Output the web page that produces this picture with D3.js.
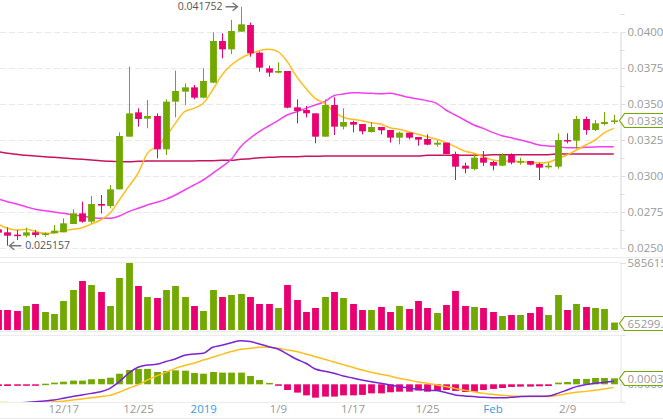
<!DOCTYPE html>
<html>
<head>
<meta charset="utf-8">
<script src="https://d3js.org/d3.v7.min.js"></script>
<style>
  body { margin: 0; background: #fff; }
  svg { display: block; font-family: "Open Sans", sans-serif; }
</style>
</head>
<body>
<div id="chart"></div>
<script>
// daily candles, first one is 2018-12-10
var startDay = new Date(2018, 11, 10);

var openP = [0.026296,0.026088,0.025926,0.025856,0.026088,0.025903,0.026018,0.026088,0.026667,0.027407,
  0.026829,0.028055,0.027917,0.029074,0.032731,0.034421,0.033981,0.034167,0.031852,0.035162,
  0.035856,0.036157,0.03544,0.036481,0.039375,0.038796,0.040023,0.040486,0.038565,0.037477,
  0.037176,0.037291,0.034768,0.034583,0.034352,0.032731,0.03493,0.033426,0.03375,0.033611,
  0.033055,0.033403,0.033194,0.032662,0.033009,0.032708,0.032569,0.032176,0.032315,0.031528,
  0.030717,0.030486,0.031273,0.030972,0.030717,0.031458,0.030926,0.031042,0.030833,0.030602,
  0.030648,0.0325,0.032454,0.033958,0.033194,0.033611,0.03375];
var highP = [0.026481,0.026435,0.02625,0.026412,0.02625,0.026088,0.026597,0.02706,0.027685,0.028217,
  0.028611,0.02868,0.029375,0.033032,0.037592,0.034699,0.035278,0.034352,0.035324,0.037315,
  0.036435,0.036319,0.037477,0.039977,0.039907,0.040833,0.041752,0.040648,0.038634,0.037662,
  0.037893,0.037291,0.035324,0.034861,0.034352,0.035324,0.035463,0.034699,0.033842,0.033611,
  0.033727,0.033403,0.033194,0.033079,0.033009,0.032708,0.032893,0.032477,0.032315,0.03169,
  0.030926,0.031504,0.031736,0.031042,0.031574,0.031574,0.031273,0.031042,0.030926,0.030926,
  0.032963,0.032963,0.034167,0.03412,0.033889,0.034444,0.034236];
var lowP = [0.025903,0.025157,0.025555,0.025741,0.025741,0.025787,0.026018,0.026088,0.026667,0.026759,
  0.026713,0.027407,0.027754,0.029074,0.032731,0.033426,0.03331,0.031227,0.031458,0.034074,
  0.03493,0.035324,0.035393,0.036435,0.038171,0.038472,0.040023,0.038287,0.037245,0.036898,
  0.037129,0.034699,0.033657,0.034074,0.032268,0.032731,0.032847,0.033241,0.033032,0.032893,
  0.033009,0.032893,0.032315,0.032199,0.032546,0.032106,0.032129,0.032037,0.031528,0.029722,
  0.030185,0.030393,0.030694,0.030393,0.030671,0.03081,0.030787,0.030741,0.029722,0.030509,
  0.030509,0.032268,0.031921,0.03287,0.033125,0.033518,0.033611];
var closeP = [0.026065,0.025856,0.025856,0.026088,0.025903,0.026018,0.026204,0.026713,0.027407,0.026829,
  0.028055,0.02794,0.029074,0.032778,0.034352,0.033958,0.034167,0.031852,0.035162,0.035903,
  0.036157,0.03544,0.036597,0.039375,0.038796,0.040069,0.040532,0.038518,0.037523,0.037176,
  0.037291,0.034745,0.034514,0.034352,0.032731,0.03493,0.033426,0.03375,0.033565,0.033102,
  0.033403,0.033171,0.032662,0.033009,0.032662,0.032523,0.032176,0.032315,0.031528,0.030648,
  0.030509,0.031273,0.030926,0.030717,0.031458,0.030926,0.031042,0.030787,0.030579,0.030717,
  0.0325,0.032407,0.033958,0.033194,0.033657,0.03375,0.03386];

// moving averages
var maShort = [0.026667,0.026366,0.02625,0.026296,0.026157,0.026018,0.026065,0.026204,0.026296,0.026412,
  0.026667,0.026944,0.027407,0.028333,0.029259,0.030185,0.031574,0.032037,0.032731,0.033657,
  0.034467,0.034699,0.035046,0.035972,0.037014,0.037708,0.038171,0.038472,0.038703,0.038796,
  0.038634,0.03794,0.036898,0.036088,0.035393,0.035046,0.034467,0.034074,0.033935,0.033842,
  0.033704,0.033611,0.033356,0.033241,0.033079,0.032893,0.032731,0.032546,0.032315,0.032037,
  0.031736,0.031574,0.031342,0.031111,0.031042,0.031042,0.030995,0.030949,0.030903,0.030949,
  0.031227,0.031458,0.031805,0.032153,0.0325,0.033009,0.03331];
var maMid = [0.028403,0.028217,0.028055,0.02787,0.027685,0.027592,0.0275,0.027407,0.027291,0.027222,
  0.027129,0.02706,0.02706,0.027222,0.027523,0.027755,0.027986,0.028171,0.028379,0.02868,
  0.029028,0.029375,0.029722,0.030185,0.030648,0.031157,0.032037,0.032616,0.033079,0.033472,
  0.033842,0.034236,0.034467,0.034699,0.03493,0.035162,0.035578,0.035694,0.035787,0.035764,
  0.035741,0.035718,0.035741,0.035625,0.035463,0.035347,0.035231,0.035046,0.034583,0.034236,
  0.033889,0.033541,0.03331,0.033032,0.032801,0.032662,0.0325,0.032338,0.032153,0.032083,
  0.032037,0.031967,0.031967,0.03199,0.032013,0.032037,0.032037];
var maLong = [0.03169,0.031574,0.031505,0.031435,0.031389,0.031342,0.031296,0.03125,0.031204,0.031157,
  0.031111,0.031065,0.031019,0.030995,0.030995,0.031019,0.031042,0.031042,0.031042,0.031042,
  0.031042,0.031042,0.031065,0.031065,0.031088,0.031088,0.031157,0.031204,0.031273,0.031296,
  0.031319,0.031342,0.031342,0.031365,0.031365,0.031389,0.031389,0.031389,0.031389,0.031389,
  0.031389,0.031389,0.031389,0.031389,0.031389,0.031389,0.031435,0.031435,0.031435,0.031435,
  0.031435,0.031435,0.031435,0.031481,0.031481,0.031481,0.031481,0.031481,0.031481,0.031481,
  0.031528,0.031528,0.031528,0.031528,0.031528,0.031528,0.031528];

var volume = [174810,174810,166070,209772,227253,157329,139848,253475,349620,428285,
  393323,332139,209772,454506,585615,384582,288437,279696,349620,384582,
  288437,209772,166070,349620,288437,305918,314658,288437,227253,227253,
  192291,393323,262215,157329,192291,288437,332139,279696,227253,174810,
  174810,201032,157329,209772,183551,253475,192291,148589,218513,340880,
  209772,201032,192291,157329,122367,131108,131108,148589,201032,131108,
  305918,174810,227253,201032,192291,183551,65299.6];

var macdDif = [-0.00125,-0.00125,-0.00122,-0.00118,-0.00113,-0.00108,-0.00102,-0.00091,-0.0008,-0.00069,
  -0.00059,-0.00048,-0.00026,0.00017,0.00072,0.00111,0.00126,0.0013,0.00148,0.00165,
  0.00189,0.00197,0.00202,0.00241,0.00254,0.00271,0.00284,0.00278,0.00263,0.00245,
  0.0023,0.00197,0.00163,0.00137,0.001,0.00085,0.00072,0.00054,0.00041,0.00028,
  0.00017,0.00007,-0.00004,-0.00015,-0.00024,-0.00033,-0.00037,-0.00041,-0.00054,-0.00069,
  -0.00076,-0.0008,-0.00085,-0.00087,-0.00087,-0.00085,-0.0008,-0.00078,-0.00078,-0.00076,
  -0.00059,-0.00037,-0.00015,-0.00002,0.00007,0.00013,0.0002];
var macdDea = [-0.00118,-0.00119,-0.0012,-0.0012,-0.00119,-0.00117,-0.00114,-0.0011,-0.00102,-0.00095,
  -0.00087,-0.0008,-0.00072,-0.00052,-0.00026,-0.00004,0.00028,0.00054,0.00078,0.00104,
  0.00122,0.00137,0.00158,0.00176,0.00195,0.00213,0.00228,0.00234,0.00241,0.00241,
  0.00234,0.00224,0.00213,0.00197,0.0018,0.00163,0.00145,0.00128,0.00111,0.00093,
  0.00078,0.00065,0.00054,0.00039,0.00028,0.00015,0.00007,-0.00004,-0.00015,-0.00028,
  -0.00039,-0.00048,-0.00059,-0.00065,-0.00072,-0.00076,-0.00078,-0.0008,-0.0008,-0.0008,
  -0.00072,-0.00061,-0.00052,-0.00046,-0.00039,-0.0003,-0.0002];
var macdHist = [-0.00011,-0.00011,-0.00009,-0.00007,-0.00002,0.00004,0.00011,0.00017,0.00024,0.00024,
  0.00033,0.00035,0.00043,0.00069,0.00093,0.001,0.001,0.0008,0.00087,0.00091,
  0.00089,0.00074,0.00069,0.0008,0.00076,0.00076,0.00076,0.00054,0.00028,0.00009,
  -0.00004,-0.00037,-0.00054,-0.00072,-0.00087,-0.0008,-0.0008,-0.00072,-0.00072,-0.00069,
  -0.00059,-0.00059,-0.00052,-0.00048,-0.00048,-0.00041,-0.00048,-0.00043,-0.00037,-0.00043,
  -0.0005,-0.00048,-0.00037,-0.0003,-0.00024,-0.00017,-0.00015,-0.00015,-0.00013,-0.00011,
  0.00011,0.00015,0.00035,0.00035,0.00041,0.00041,0.00039];

var priceTicks = [0.025, 0.0275, 0.03, 0.0325, 0.035, 0.0375, 0.04, 0.0425];
var tickDays = [new Date(2018,11,17), new Date(2018,11,25), new Date(2019,0,1), new Date(2019,0,9),
  new Date(2019,0,17), new Date(2019,0,25), new Date(2019,1,1), new Date(2019,1,9)];
var tickLabels = ["12/17", "12/25", "2019", "1/9", "1/17", "1/25", "Feb", "2/9"];

function init(){
    var w = 663;
    var h = 420;
    var axisX = 620.5;
    var green = "#72a900";
    var pink = "#ea0070";
    var textGray = "#9a9a9a";

    var svg = d3.select("#chart")
                .append("svg")
                .attr("width", w)
                .attr("height", h);

    var days = openP.map(function(d, i){ return d3.timeDay.offset(startDay, i); });

    var x = d3.scaleTime()
        .domain([startDay, days[days.length - 1]])
        .range([-2, 613.8]);
    var barW = 6.8;

    var yPrice = d3.scaleLinear().domain([0.025, 0.04]).range([248, 32]);
    var yVol = d3.scaleLinear().domain([0, 585615]).range([330, 263]);
    var yMacd = d3.scaleLinear().domain([-0.001152, 0.00321]).range([402, 335]);

    var defs = svg.append("defs");
    defs.append("clipPath").attr("id", "clipPrice")
        .append("rect").attr("x", 0).attr("y", 0).attr("width", axisX).attr("height", 257);
    defs.append("clipPath").attr("id", "clipMacd")
        .append("rect").attr("x", 0).attr("y", 335).attr("width", axisX).attr("height", 67);

    // panel borders
    var borders = [257.5, 262.5, 331.5, 335.5, 402.5];
    svg.selectAll("line.border")
        .data(borders)
        .enter()
        .append("line")
        .attr("class", "border")
        .attr("x1", 0)
        .attr("x2", function(d, i){ return i == 0 ? w : axisX; })
        .attr("y1", function(d){ return d; })
        .attr("y2", function(d){ return d; })
        .attr("stroke", "#ececec");
    svg.append("line")
        .attr("x1", 0).attr("x2", w).attr("y1", 418.5).attr("y2", 418.5)
        .attr("stroke", "#ececec");

    // dashed grid
    svg.append("g")
        .selectAll("line")
        .data(priceTicks)
        .enter()
        .append("line")
        .attr("x1", 0)
        .attr("x2", axisX)
        .attr("y1", function(d){ return Math.round(yPrice(d)) + 0.5; })
        .attr("y2", function(d){ return Math.round(yPrice(d)) + 0.5; })
        .attr("stroke", "#e9e9e9")
        .attr("stroke-dasharray", "6,3");

    // moving averages
    var plot = svg.append("g").attr("clip-path", "url(#clipPrice)");
    var priceLine = d3.line()
        .x(function(d, i){ return x(days[i]); })
        .y(function(d){ return yPrice(d); })
        .curve(d3.curveMonotoneX);

    [[maLong, "#c9135e"], [maMid, "#f43ef0"], [maShort, "#ffbe1e"]].forEach(function(s){
        plot.append("path")
            .attr("d", priceLine(s[0]))
            .attr("fill", "none")
            .attr("stroke", s[1])
            .attr("stroke-width", 1.5);
    });

    // candles
    var candles = plot.selectAll("g.candle")
        .data(openP)
        .enter()
        .append("g")
        .attr("class", "candle");

    candles.append("line")
        .attr("x1", function(d, i){ return Math.round(x(days[i])) + 0.5; })
        .attr("x2", function(d, i){ return Math.round(x(days[i])) + 0.5; })
        .attr("y1", function(d, i){ return yPrice(highP[i]); })
        .attr("y2", function(d, i){ return yPrice(lowP[i]); })
        .attr("stroke", function(d, i){ return closeP[i] >= openP[i] ? green : pink; })
        .attr("stroke-width", 1);

    candles.append("rect")
        .attr("x", function(d, i){ return Math.round(x(days[i])) + 0.5 - barW / 2; })
        .attr("y", function(d, i){ return yPrice(Math.max(openP[i], closeP[i])); })
        .attr("width", barW)
        .attr("height", function(d, i){
            return Math.max(1.5, Math.abs(yPrice(openP[i]) - yPrice(closeP[i])));
        })
        .attr("fill", function(d, i){ return closeP[i] >= openP[i] ? green : pink; });

    // volume bars
    svg.append("g")
        .selectAll("rect")
        .data(volume)
        .enter()
        .append("rect")
        .attr("x", function(d, i){ return Math.max(0, Math.round(x(days[i])) + 0.5 - barW / 2); })
        .attr("y", function(d){ return yVol(d); })
        .attr("width", function(d, i){
            var left = Math.round(x(days[i])) + 0.5 - barW / 2;
            return left < 0 ? barW + left : barW;
        })
        .attr("height", function(d){ return yVol(0) - yVol(d); })
        .attr("fill", function(d, i){ return closeP[i] >= openP[i] ? green : pink; });

    // MACD
    var macd = svg.append("g").attr("clip-path", "url(#clipMacd)");
    macd.selectAll("rect")
        .data(macdHist)
        .enter()
        .append("rect")
        .attr("x", function(d, i){ return Math.round(x(days[i])) + 0.5 - barW / 2; })
        .attr("y", function(d){ return d >= 0 ? yMacd(d) : yMacd(0); })
        .attr("width", barW)
        .attr("height", function(d){ return Math.max(1.5, Math.abs(yMacd(d) - yMacd(0))); })
        .attr("fill", function(d){ return d >= 0 ? green : pink; });

    var macdLine = d3.line()
        .x(function(d, i){ return x(days[i]); })
        .y(function(d){ return yMacd(d); })
        .curve(d3.curveMonotoneX);
    macd.append("path")
        .attr("d", macdLine(macdDea))
        .attr("fill", "none")
        .attr("stroke", "#ffbe1e")
        .attr("stroke-width", 1.5);
    macd.append("path")
        .attr("d", macdLine(macdDif))
        .attr("fill", "none")
        .attr("stroke", "#7a22d4")
        .attr("stroke-width", 1.5);

    // right price axis
    var fmt5 = d3.format(".5f");
    var pAxis = svg.append("g")
        .attr("transform", "translate(" + axisX + ",0)")
        .call(d3.axisRight(yPrice).tickValues(priceTicks).tickFormat(fmt5).tickSize(5).tickPadding(2));
    var minorTicks = priceTicks.map(function(d){ return d + 0.00125; });
    svg.append("g")
        .attr("transform", "translate(" + axisX + ",0)")
        .call(d3.axisRight(yPrice).tickValues(minorTicks).tickFormat("").tickSize(4));

    var vAxis = svg.append("g")
        .attr("transform", "translate(" + axisX + ",0)")
        .call(d3.axisRight(yVol).tickValues([585615]).tickFormat(function(){ return "585615.8"; }).tickSize(5).tickPadding(2));

    var mAxis = svg.append("g")
        .attr("transform", "translate(" + axisX + ",0)")
        .call(d3.axisRight(yMacd).tickValues([0]).tickFormat(fmt5).tickSize(5).tickPadding(2));

    svg.selectAll(".domain").attr("stroke", "#e3e3e3");
    svg.selectAll(".tick line").attr("stroke", "#dcdcdc");
    svg.selectAll(".tick text")
        .attr("fill", textGray)
        .style("font-size", "11.5px")
        .style("font-family", "'Open Sans', sans-serif");

    // x axis
    var xAxis = svg.append("g")
        .attr("transform", "translate(0,402)")
        .call(d3.axisBottom(x).tickValues(tickDays)
            .tickFormat(function(d, i){ return tickLabels[i]; })
            .tickSize(0).tickPadding(3));
    xAxis.select(".domain").remove();
    xAxis.selectAll("text")
        .attr("fill", function(d, i){ return (tickLabels[i] == "2019" || tickLabels[i] == "Feb") ? "#3a9bdc" : textGray; })
        .style("font-size", "11.5px")
        .style("font-family", "'Open Sans', sans-serif");

    // last value tags
    function tag(yv, label){
        var y = Math.round(yv) + 0.5;
        svg.append("path")
            .attr("d", "M" + (axisX - 1) + "," + y + " L" + (axisX + 4) + "," + (y - 7) +
                " L" + (w + 5) + "," + (y - 7) + " L" + (w + 5) + "," + (y + 7) +
                " L" + (axisX + 4) + "," + (y + 7) + " Z")
            .attr("fill", "#fff")
            .attr("stroke", green)
            .attr("stroke-width", 1.2);
        svg.append("text")
            .attr("x", axisX + 7)
            .attr("y", y)
            .attr("dy", "0.35em")
            .attr("fill", textGray)
            .style("font-size", "11.5px")
            .text(label);
    }
    tag(yPrice(closeP[closeP.length - 1]), fmt5(closeP[closeP.length - 1]));
    tag(yVol(volume[volume.length - 1]), "65299.6");
    tag(yMacd(macdHist[macdHist.length - 1]), fmt5(macdHist[macdHist.length - 1]));

    // high / low markers
    var hiIdx = d3.maxIndex(highP);
    var loIdx = d3.minIndex(lowP);
    var hx = x(days[hiIdx]);
    var hy = yPrice(highP[hiIdx]);
    svg.append("path")
        .attr("d", "M" + (hx - 15) + "," + hy + " L" + (hx - 3) + "," + hy +
            " M" + (hx - 8) + "," + (hy - 4) + " L" + (hx - 3) + "," + hy + " L" + (hx - 8) + "," + (hy + 4))
        .attr("fill", "none").attr("stroke", "#777").attr("stroke-width", 1.3);
    svg.append("text")
        .attr("x", hx - 18).attr("y", hy).attr("dy", "0.35em")
        .attr("text-anchor", "end")
        .attr("fill", "#555")
        .style("font-size", "10.5px")
        .text(highP[hiIdx]);

    var lx = x(days[loIdx]);
    var ly = yPrice(lowP[loIdx]);
    svg.append("path")
        .attr("d", "M" + (lx + 14) + "," + ly + " L" + (lx + 2) + "," + ly +
            " M" + (lx + 7) + "," + (ly - 4) + " L" + (lx + 2) + "," + ly + " L" + (lx + 7) + "," + (ly + 4))
        .attr("fill", "none").attr("stroke", "#777").attr("stroke-width", 1.3);
    svg.append("text")
        .attr("x", lx + 18).attr("y", ly).attr("dy", "0.35em")
        .attr("fill", "#555")
        .style("font-size", "10.5px")
        .text(lowP[loIdx]);
}

window.onload = init;
</script>
</body>
</html>
